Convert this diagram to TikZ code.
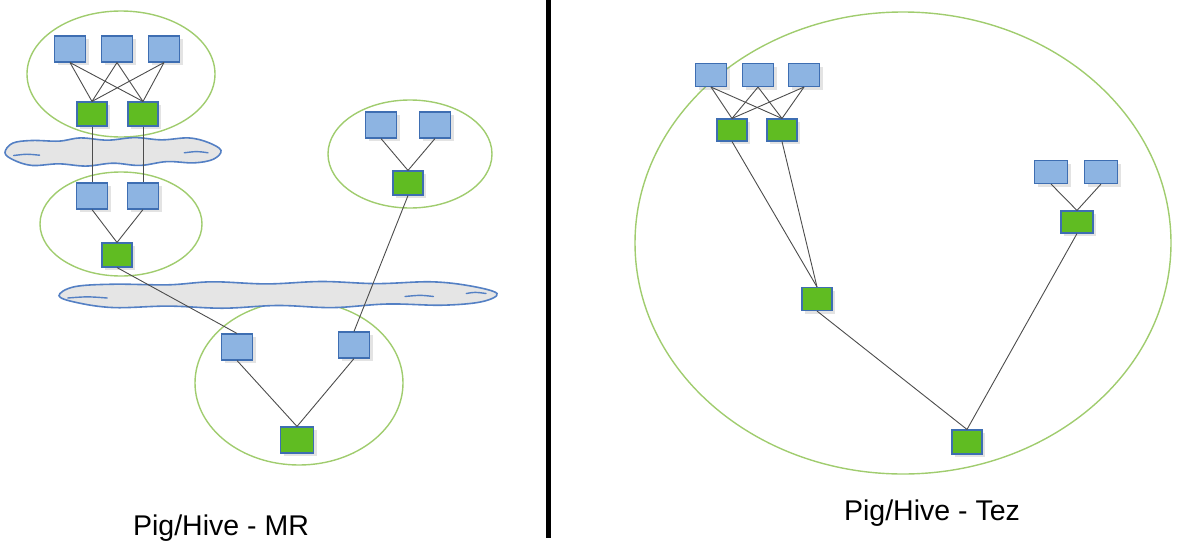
\documentclass[tikz,border=0pt]{standalone}
\usepackage{fontspec}
\setmainfont{Liberation Sans}
\usetikzlibrary{shadows}

\definecolor{taskblue}{RGB}{141,180,226}
\definecolor{taskgreen}{RGB}{96,188,34}
\definecolor{taskline}{RGB}{62,110,178}
\definecolor{stageline}{RGB}{160,204,110}
\definecolor{cloudline}{RGB}{84,128,196}

% outline of a flat shuffle cloud, in a 2x2 box round the origin
\def\cloudpts{(-1,0.05) (-0.93,-0.55) (-0.75,-0.72) (-0.5,-0.68) (-0.3,-0.88)
  (-0.05,-0.74) (0.2,-0.9) (0.45,-0.76) (0.7,-0.88) (0.88,-0.6) (1,-0.1)
  (0.93,0.45) (0.75,0.68) (0.5,0.6) (0.25,0.84) (0,0.7) (-0.25,0.88)
  (-0.5,0.74) (-0.75,0.84) (-0.92,0.5)}

\tikzset{
  task/.style={draw=taskline, line width=1.1pt, inner sep=0pt,
    drop shadow={shadow xshift=3pt, shadow yshift=-3pt, opacity=0.22}},
  mapper/.style={task, fill=taskblue, minimum width=31pt, minimum height=26pt},
  reducer/.style={task, fill=taskgreen, minimum width=30pt, minimum height=24pt},
  stage/.style={draw=stageline, line width=1.4pt},
  shuffle/.style={draw=cloudline, fill=gray!20, line width=1.6pt},
  curl/.style={draw=cloudline, line width=1.4pt, line cap=round},
  link/.style={draw=black!70, line width=0.9pt},
  caption/.style={font=\fontsize{28.5}{30}\selectfont, anchor=base, inner sep=0pt}
}

\begin{document}
\begin{tikzpicture}[x=1pt, y=-1pt]
\useasboundingbox (0,0) rectangle (1200,544);
% Pig/Hive - MR: stage ellipses
\draw[stage] (121,74) ellipse [x radius=94, y radius=63];
\draw[stage] (121,224) ellipse [x radius=81, y radius=52];
\draw[stage] (410,154) ellipse [x radius=82, y radius=54];
\draw[stage] (299,383) ellipse [x radius=104, y radius=82];
% Shuffle clouds
\begin{scope}[shift={(113,152)}, xscale=108, yscale=16]
  \draw[shuffle] plot[smooth cycle, tension=0.6] coordinates {\cloudpts};
  \draw[curl] (-0.92,0.22) .. controls (-0.8,0.12) .. (-0.68,0.2);
  \draw[curl] (0.88,0.05) .. controls (0.78,-0.05) .. (0.66,0.05);
\end{scope}
\begin{scope}[shift={(278,295)}, xscale=219, yscale=15]
  \draw[shuffle] plot[smooth cycle, tension=0.6] coordinates {\cloudpts};
  \draw[curl] (-0.96,0.2) .. controls (-0.87,0.1) .. (-0.78,0.2);
  \draw[curl] (0.58,0.1) .. controls (0.65,0.0) .. (0.71,0.1);
  \draw[curl] (0.86,-0.1) .. controls (0.9,-0.2) .. (0.95,-0.1);
\end{scope}
% Tasks of the MR jobs
\node[mapper] (mA1) at (70,49) {};
\node[mapper] (mA2) at (117,49) {};
\node[mapper] (mA3) at (164,49) {};
\node[reducer] (rA1) at (92,114) {};
\node[reducer] (rA2) at (143,114) {};
\node[mapper] (mB1) at (92,196) {};
\node[mapper] (mB2) at (143,196) {};
\node[reducer] (rB) at (117,255) {};
\node[mapper] (mC1) at (381,125) {};
\node[mapper] (mC2) at (435,125) {};
\node[reducer] (rC) at (408,183) {};
\node[mapper] (mD1) at (237,347) {};
\node[mapper] (mD2) at (354,345) {};
\node[reducer, minimum width=33pt, minimum height=26pt] (rD) at (297,440) {};
% MR connections
\foreach \m in {mA1,mA2,mA3}
  \foreach \r in {rA1,rA2}
    \draw[link] (\m.south) -- (\r.north);
\draw[link] (rA1.south) -- (mB1.north);
\draw[link] (rA2.south) -- (mB2.north);
\draw[link] (mB1.south) -- (rB.north);
\draw[link] (mB2.south) -- (rB.north);
\draw[link] (mC1.south) -- (rC.north);
\draw[link] (mC2.south) -- (rC.north);
\draw[link] (rB.south) -- (mD1.north);
\draw[link] (rC.south) -- (mD2.north);
\draw[link] (mD1.south) -- (rD.north);
\draw[link] (mD2.south) -- (rD.north);
\node[caption] (capMR) at (221,535) {Pig/Hive - MR};
% Divider
\coordinate (divtop) at (548,0);
\coordinate (divbot) at (548,538);
\draw[line width=5pt] (divtop) -- (divbot);
% Pig/Hive - Tez: one DAG
\draw[stage] (903,243) ellipse [x radius=268, y radius=231];
\node[mapper, minimum height=23pt] (tA1) at (711,75) {};
\node[mapper, minimum height=23pt] (tA2) at (758,75) {};
\node[mapper, minimum height=23pt] (tA3) at (804,75) {};
\node[reducer, minimum height=22pt] (tR1) at (732,130) {};
\node[reducer, minimum height=22pt] (tR2) at (782,130) {};
\node[reducer, minimum height=23pt] (tJ) at (817,299) {};
\node[mapper, minimum width=33pt, minimum height=23pt] (tB1) at (1051,172) {};
\node[mapper, minimum width=33pt, minimum height=23pt] (tB2) at (1101,172) {};
\node[reducer, minimum width=32pt, minimum height=22pt] (tR3) at (1077,222) {};
\node[reducer, minimum height=24pt] (tEnd) at (967,442) {};
% Tez connections
\foreach \m in {tA1,tA2,tA3}
  \foreach \r in {tR1,tR2}
    \draw[link] (\m.south) -- (\r.north);
\draw[link] (tR1.south) -- (tJ.north);
\draw[link] (tR2.south) -- (tJ.north);
\draw[link] (tB1.south) -- (tR3.north);
\draw[link] (tB2.south) -- (tR3.north);
\draw[link] (tJ.south) -- (tEnd.north);
\draw[link] (tR3.south) -- (tEnd.north);
\node[caption] (capTez) at (932,520) {Pig/Hive - Tez};
\end{tikzpicture}
\end{document}
